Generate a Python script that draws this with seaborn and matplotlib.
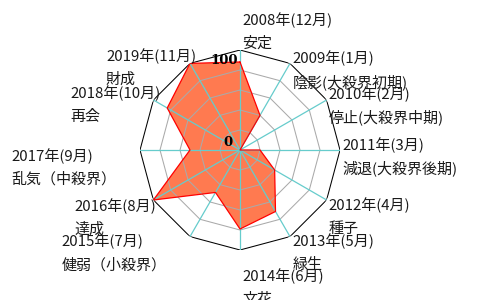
import numpy as np
import matplotlib
matplotlib.use('Agg')
import matplotlib.pyplot as plt
import seaborn as sns

# ---- data ----
years = ['2008年(12月)', '2009年(1月)', '2010年(2月)', '2011年(3月)', '2012年(4月)',
         '2013年(5月)', '2014年(6月)', '2015年(7月)', '2016年(8月)', '2017年(9月)',
         '2018年(10月)', '2019年(11月)']
phases = ['安定', '陰影(大殺界初期)', '停止(大殺界中期)', '減退(大殺界後期)', '種子',
          '緑生', '文花', '健弱（小殺界）', '達成', '乱気（中殺界）', '再会', '財成']
values = [88, 40, 0, 20, 40, 71, 79, 49, 100, 50, 84, 100]
grid_levels = [20, 40, 60, 80]
max_value = 100
radial_tick_labels = ['100', '0']

# ---- layout (pixel offsets of first label line from each axis end) ----
label_offsets = [(2, -30), (2.7, -5), (1.7, -6), (2.7, -5), (1.7, 5), (2.7, 5),
                 (2.7, 26.5), (-128.3, 5), (-79.4, 6), (-128.3, 6), (-83.4, -6.5),
                 (-84, -7.5)]
line_gap = 23.5

sns.set_theme(style='white')
plt.rcParams['font.family'] = ['Noto Sans CJK JP', 'DejaVu Sans']

W, H = 480, 300
R = 100
fig = plt.figure(figsize=(W / 100, H / 100), dpi=100)
ax = fig.add_axes([0.5 - R / W, 0.5 - R / H, 2 * R / W, 2 * R / H], projection='polar')
ax.set_theta_offset(np.pi / 2)
ax.set_theta_direction(-1)
ax.set_ylim(0, max_value)
ax.set_axis_off()

n = len(years)
theta = np.arange(n) * 2 * np.pi / n
theta_c = np.append(theta, theta[0])

# fill
ax.fill(theta, values, color='#FF7A50', lw=0, zorder=1)

# grid polygons
for lvl in grid_levels:
    ax.plot(theta_c, [lvl] * (n + 1), color='#AAAAAA', lw=0.75, zorder=2)
ax.plot(theta_c, [max_value] * (n + 1), color='black', lw=0.75, zorder=2)
# spokes
for t in theta:
    ax.plot([t, t], [0, max_value], color='#66CCCC', lw=0.9, zorder=2)

# outline
vals_c = values + [values[0]]
sns.lineplot(x=theta_c, y=vals_c, sort=False, estimator=None, ax=ax,
             color='#FF0000', lw=0.9, zorder=3)
ax.set_xlabel('')
ax.set_ylabel('')

# axis names
for i in range(n):
    dx, dy = label_offsets[i]
    ax.annotate(years[i], xy=(theta[i], max_value), xycoords='data',
                xytext=(dx, -dy), textcoords='offset pixels',
                ha='left', va='center', fontsize=10.8, color='#1a1a1a',
                annotation_clip=False, zorder=5)
    ax.annotate(phases[i], xy=(theta[i], max_value), xycoords='data',
                xytext=(dx, -(dy + line_gap)), textcoords='offset pixels',
                ha='left', va='center', fontsize=10.8, color='#1a1a1a',
                annotation_clip=False, zorder=5)

# radial tick labels
ax.annotate(radial_tick_labels[0], xy=(0, max_value), xycoords='data',
            xytext=(-2, -10), textcoords='offset pixels', ha='right', va='center',
            fontsize=9.5, family='DejaVu Serif', fontweight='bold', color='black',
            annotation_clip=False, zorder=6)
ax.annotate(radial_tick_labels[1], xy=(0, 0), xycoords='data',
            xytext=(-7, 8), textcoords='offset pixels', ha='right', va='center',
            fontsize=9.5, family='DejaVu Serif', fontweight='bold', color='black',
            annotation_clip=False, zorder=6)

fig.savefig('out.png', dpi=100)
